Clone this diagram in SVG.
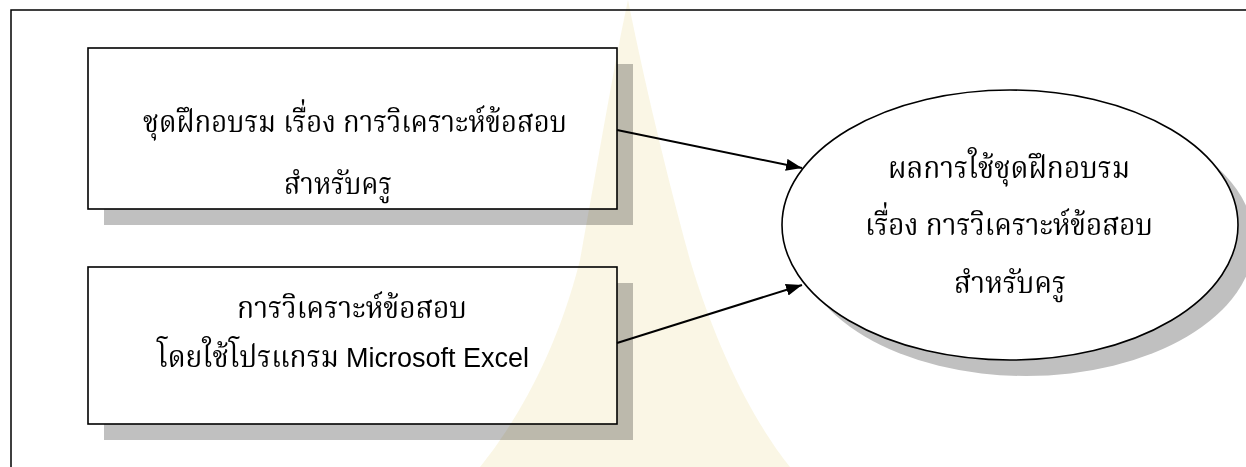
<svg xmlns="http://www.w3.org/2000/svg" width="1246" height="467" viewBox="0 0 1246 467">
  <defs>
    <style>
      .frame { fill: none; stroke: #000; stroke-width: 1.5; }
      .shadow { fill: #c0c0c0; stroke: none; }
      .box { fill: #fff; stroke: #000; stroke-width: 1.6; }
      .th { font-family: 'Angsana New', 'Norasi', 'Kinnari', 'Noto Serif Thai', 'TH Sarabun New', 'Liberation Serif', serif; font-size: 31px; fill: #000; text-anchor: middle; }
      .en { font-family: 'Liberation Sans', Arial, sans-serif; font-size: 27px; fill: #000; }
      .conn { fill: none; stroke: #000; stroke-width: 2; }
      .wm { fill: #eee2a8; opacity: 0.3; mix-blend-mode: multiply; }
    </style>
    <marker id="arrow" viewBox="0 0 16 12" refX="16" refY="6" markerWidth="16" markerHeight="12" markerUnits="userSpaceOnUse" orient="auto">
      <path d="M0,0 L16,6 L0,12 z" fill="#000"/>
    </marker>
  </defs>
  <rect x="0" y="0" width="1246" height="467" fill="#fff"/>

  <rect class="frame" x="11" y="10" width="1260" height="480"/>

  <g id="node-training-set">
    <rect class="shadow" x="104" y="64" width="529" height="161"/>
    <rect class="box" x="88" y="48" width="529" height="161"/>
    <text class="th" x="355" y="132" textLength="424" lengthAdjust="spacingAndGlyphs">ชุดฝึกอบรม เรื่อง การวิเคราะห์ข้อสอบ</text>
    <text class="th" x="338" y="194" textLength="108" lengthAdjust="spacingAndGlyphs">สำหรับครู</text>
  </g>

  <g id="node-excel-analysis">
    <rect class="shadow" x="104" y="283" width="529" height="157"/>
    <rect class="box" x="88" y="267" width="529" height="157"/>
    <text class="th" x="352" y="318" textLength="230" lengthAdjust="spacingAndGlyphs">การวิเคราะห์ข้อสอบ</text>
    <text class="th" x="248" y="367" textLength="182" lengthAdjust="spacingAndGlyphs">โดยใช้โปรแกรม</text>
    <text class="en" x="346" y="367">Microsoft Excel</text>
  </g>

  <g id="node-result">
    <ellipse class="shadow" cx="1026" cy="241" rx="228" ry="135"/>
    <ellipse class="box" cx="1010" cy="225" rx="228" ry="135"/>
    <text class="th" x="1009" y="178" textLength="242" lengthAdjust="spacingAndGlyphs">ผลการใช้ชุดฝึกอบรม</text>
    <text class="th" x="1009" y="235" textLength="288" lengthAdjust="spacingAndGlyphs">เรื่อง การวิเคราะห์ข้อสอบ</text>
    <text class="th" x="1010" y="293" textLength="112" lengthAdjust="spacingAndGlyphs">สำหรับครู</text>
  </g>

  <g id="connectors">
    <line class="conn" x1="617" y1="130" x2="802" y2="168" marker-end="url(#arrow)"/>
    <line class="conn" x1="617" y1="343" x2="802" y2="285" marker-end="url(#arrow)"/>
  </g>

  <path class="wm" d="M628,0 C640,60 660,150 690,260 C720,360 760,430 790,467 L480,467 C510,430 555,360 580,260 C600,150 615,60 628,0 Z"/>
</svg>
